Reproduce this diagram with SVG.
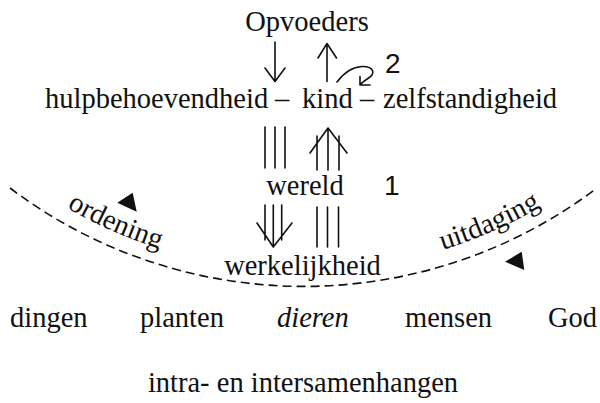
<svg xmlns="http://www.w3.org/2000/svg" width="600" height="403" viewBox="0 0 600 403">
<style>
.t{font-family:"Liberation Serif","Times New Roman",serif;font-size:28.5px;fill:#111}
.n{font-family:"Liberation Sans",Arial,sans-serif;font-size:28px;fill:#111}
.l{fill:none;stroke:#111;stroke-width:1.6;stroke-linecap:round;stroke-linejoin:round}
.d{fill:none;stroke:#111;stroke-width:1.6;stroke-dasharray:9 5}
.f{fill:#111}
</style>
<defs>
<path id="arcText" d="M -0.4,160.6 A 472 472 0 0 0 606.4,160.6"/>
</defs>
<rect width="600" height="403" fill="#fff"/>
<g id="opvoeders"><text class="t" x="307" y="31" text-anchor="middle">Opvoeders</text></g>
<g id="kind-rij">
<text class="t" x="45" y="108">hulpbehoevendheid</text>
<text class="t" x="275" y="108">–</text>
<text class="t" x="302" y="108">kind</text>
<text class="t" x="360" y="108">–</text>
<text class="t" x="383" y="108">zelfstandigheid</text>
</g>
<g id="wereld"><text class="t" x="305" y="195" text-anchor="middle">wereld</text></g>
<g id="werkelijkheid"><text class="t" x="302.5" y="275" text-anchor="middle">werkelijkheid</text></g>
<g id="labels">
<text class="n" x="385" y="73">2</text>
<text class="n" x="384" y="195">1</text>
<text class="t"><textPath href="#arcText" startOffset="133" text-anchor="middle">ordening</textPath></text>
<text class="t"><textPath href="#arcText" startOffset="525" text-anchor="middle">uitdaging</textPath></text>
</g>
<g id="rij-onder">
<text class="t" x="10" y="327">dingen</text>
<text class="t" x="140" y="327">planten</text>
<text class="t" x="277" y="327" font-style="italic">dieren</text>
<text class="t" x="405" y="327">mensen</text>
<text class="t" x="548" y="327">God</text>
</g>
<g id="samenhang"><text class="t" x="303" y="392" text-anchor="middle">intra- en intersamenhangen</text></g>
<g id="connectors">
<path class="l" d="M275,42 V81.5 M265,68 L275,81.5 L285,68"/>
<path class="l" d="M327,81.5 V43.5 M318,58 L327,43.5 L336.5,58"/>
<path class="l" d="M337,82 C343,74 352,67 362,66.5 C372,66 376,72 370,77 C366,80 362,82 360,85 M360,76.5 L360,85 L370,85"/>
<path class="l" d="M265,127 V168 M275,127 V168 M285,127 V168"/>
<path class="l" d="M317,170 V136 M328,170 V129 M339,170 V136 M310,153 L328,128 L347,153"/>
<path class="l" d="M265,205 V240 M273.3,205 V247 M281.7,205 V240 M257,223 L273.3,247 L292,223"/>
<path class="l" d="M317,207 V247 M327.5,207 V247 M338.5,207 V247"/>
<path class="d" d="M10,188 A 487 487 0 0 0 597,188"/>
<polygon class="f" points="132.7,192.7 117.3,202.7 136.7,211.7"/>
<polygon class="f" points="505,261.7 521.7,251.7 524.3,270"/>
</g>
</svg>
